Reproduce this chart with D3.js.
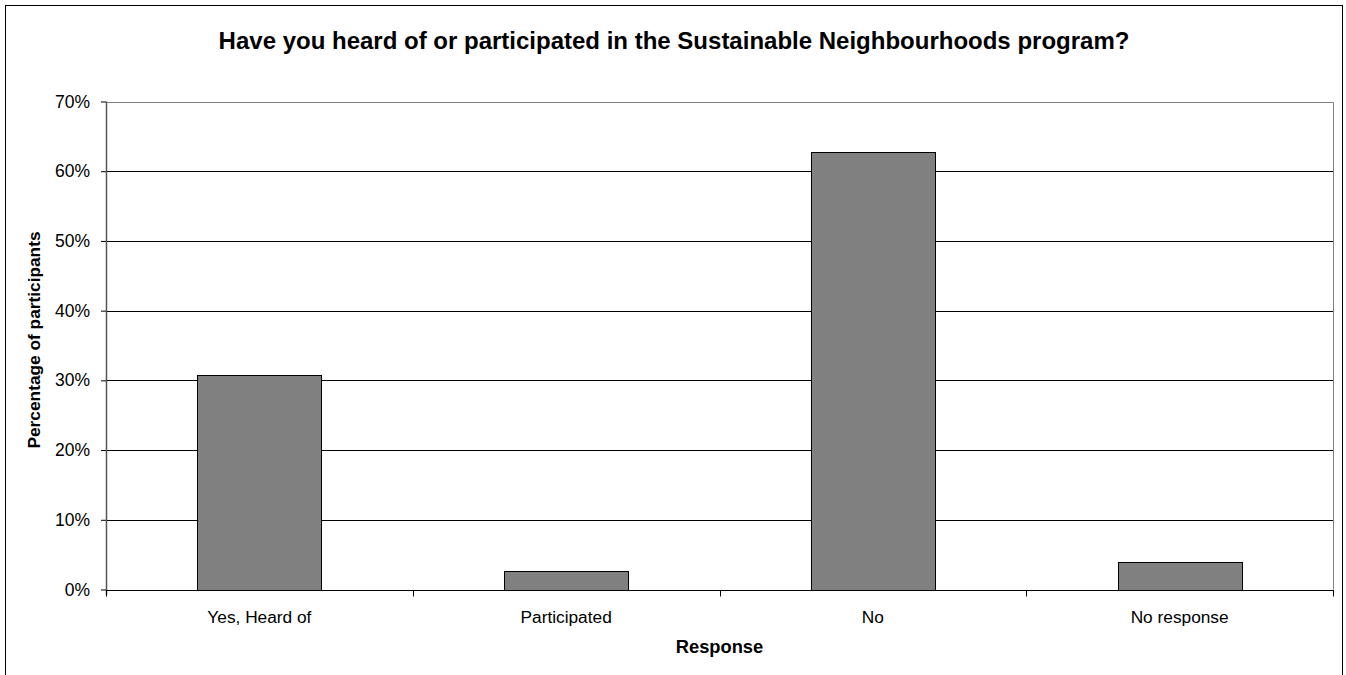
<!DOCTYPE html>
<html>
<head>
<meta charset="utf-8">
<script src="https://cdn.jsdelivr.net/npm/d3@7/dist/d3.min.js"></script>
<style>
html,body{margin:0;padding:0;background:#fff;}
svg{display:block;font-family:"Liberation Sans",Arial,sans-serif;}
</style>
</head>
<body>
<svg id="chart" width="1346" height="675"></svg>
<script>
const categories = ["Yes, Heard of", "Participated", "No", "No response"];
const values = [30.7, 2.6, 62.7, 3.9];
const yTicks = [0, 10, 20, 30, 40, 50, 60, 70];
const title = "Have you heard of or participated in the Sustainable Neighbourhoods program?";
const xTitle = "Response";
const yTitle = "Percentage of participants";

const svg = d3.select("#chart");
const m = {left: 106, right: 1333, top: 101.5, bottom: 589.5};

// outer frame
svg.append("rect").attr("x", 5.5).attr("y", 5.5).attr("width", 1337).attr("height", 700)
  .attr("fill", "#fff").attr("stroke", "#000").attr("stroke-width", 1);

const x = d3.scaleBand().domain(categories).range([m.left, m.right]).padding(0);
const y = d3.scaleLinear().domain([0, 70]).range([m.bottom, m.top]);

// gridlines
svg.append("g").selectAll("line").data(yTicks.filter(d => d > 0 && d < 70)).join("line")
  .attr("x1", m.left).attr("x2", m.right)
  .attr("y1", d => Math.round(y(d)) + 0.5).attr("y2", d => Math.round(y(d)) + 0.5)
  .attr("stroke", "#000").attr("stroke-width", 1);

// plot border top/right (grey)
svg.append("path")
  .attr("d", `M${m.left},${Math.round(y(70)) + 0.5}H${m.right + 0.5}V${m.bottom}`)
  .attr("fill", "none").attr("stroke", "#808080").attr("stroke-width", 1);

// bars
const barW = x.bandwidth() * 0.405;
svg.append("g").selectAll("rect").data(values).join("rect")
  .attr("x", (d, i) => Math.round(x(categories[i]) + x.bandwidth() / 2 - barW / 2) + 0.5)
  .attr("width", Math.round(barW))
  .attr("y", d => Math.round(y(d)) + 0.5)
  .attr("height", d => Math.round(y(0)) - Math.round(y(d)))
  .attr("fill", "#808080").attr("stroke", "#000").attr("stroke-width", 1);

// y axis
const yAxis = d3.axisLeft(y).tickValues(yTicks).tickSize(5).tickPadding(11)
  .tickFormat(d => d + "%");
const gy = svg.append("g").attr("transform", `translate(${m.left},0)`).call(yAxis);
gy.select(".domain").attr("stroke", "#555").attr("stroke-width", 1.5).attr("d", `M0.5,${m.top}V${m.bottom + 5}`);
gy.selectAll(".tick line").attr("stroke", "#000");
gy.selectAll(".tick text").attr("font-size", 17.5).attr("fill", "#000")
  .attr("font-family", "Liberation Sans, Arial, sans-serif");

// x axis
const xAxis = d3.axisBottom(x).tickSize(0).tickPadding(20);
const gx = svg.append("g").attr("transform", `translate(0,${Math.round(y(0)) + 0.5})`).call(xAxis);
gx.select(".domain").attr("stroke", "#000").attr("d", `M${m.left},0H${m.right + 1}`);
gx.selectAll(".tick text").attr("font-size", 17.3).attr("fill", "#000")
  .attr("font-family", "Liberation Sans, Arial, sans-serif");
// boundary ticks between categories
const bounds = categories.map(c => x(c)).concat([m.right]);
gx.append("g").selectAll("line").data(bounds).join("line")
  .attr("x1", d => Math.round(d) + 0.5).attr("x2", d => Math.round(d) + 0.5)
  .attr("y1", 0).attr("y2", 6).attr("stroke", "#000");

// titles
svg.append("text").attr("x", (218 + 1130) / 2).attr("y", 49).attr("text-anchor", "middle")
  .attr("font-size", 24).attr("font-weight", "bold").text(title);
svg.append("text").attr("x", (m.left + m.right) / 2).attr("y", 653).attr("text-anchor", "middle")
  .attr("font-size", 18.3).attr("font-weight", "bold").text(xTitle);
svg.append("text").attr("transform", `translate(40,${(232 + 448) / 2}) rotate(-90)`)
  .attr("text-anchor", "middle").attr("font-size", 17.3).attr("font-weight", "bold").text(yTitle);
</script>
</body>
</html>
